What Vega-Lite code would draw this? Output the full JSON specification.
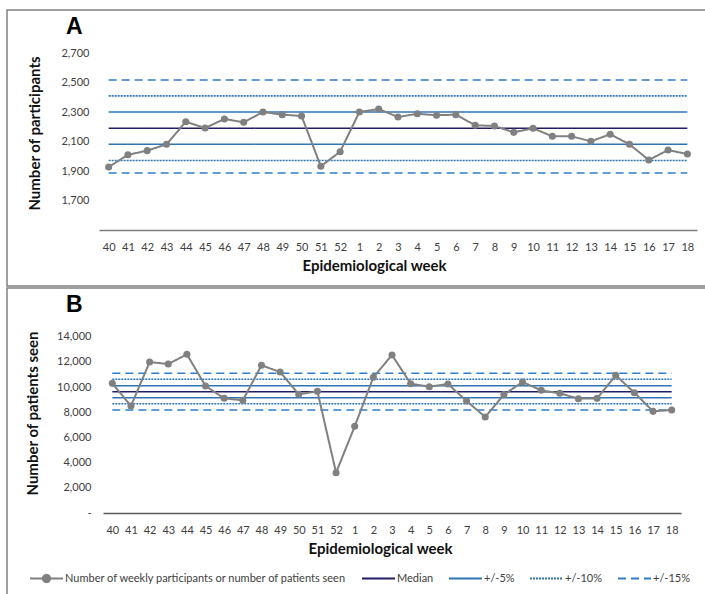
{
  "$schema": "https://vega.github.io/schema/vega-lite/v6.json",
  "padding": {"left": 6, "top": 9, "right": 0, "bottom": 0},
  "spacing": 0,
  "config": {
    "view": {"stroke": "#808080", "strokeWidth": 1.5},
    "font": "Lato",
    "axis": {"labelFont": "Lato", "labelFontSize": 11, "labelColor": "#404040", "titleFont": "Lato", "titleFontSize": 15, "titleFontWeight": "bold", "titleColor": "#111111", "ticks": false, "grid": false}
  },
  "resolve": {
    "scale": {"color": "independent", "strokeDash": "independent"},
    "legend": {"color": "independent", "strokeDash": "independent"}
  },
  "datasets": {
    "d": [
      {"panel": "A", "kind": "obs", "series": "Number of weekly participants or number of patients seen", "week": "40", "value": 1927},
      {"panel": "A", "kind": "obs", "series": "Number of weekly participants or number of patients seen", "week": "41", "value": 2010},
      {"panel": "A", "kind": "obs", "series": "Number of weekly participants or number of patients seen", "week": "42", "value": 2038},
      {"panel": "A", "kind": "obs", "series": "Number of weekly participants or number of patients seen", "week": "43", "value": 2081},
      {"panel": "A", "kind": "obs", "series": "Number of weekly participants or number of patients seen", "week": "44", "value": 2234},
      {"panel": "A", "kind": "obs", "series": "Number of weekly participants or number of patients seen", "week": "45", "value": 2191},
      {"panel": "A", "kind": "obs", "series": "Number of weekly participants or number of patients seen", "week": "46", "value": 2253},
      {"panel": "A", "kind": "obs", "series": "Number of weekly participants or number of patients seen", "week": "47", "value": 2230},
      {"panel": "A", "kind": "obs", "series": "Number of weekly participants or number of patients seen", "week": "48", "value": 2300},
      {"panel": "A", "kind": "obs", "series": "Number of weekly participants or number of patients seen", "week": "49", "value": 2282},
      {"panel": "A", "kind": "obs", "series": "Number of weekly participants or number of patients seen", "week": "50", "value": 2273},
      {"panel": "A", "kind": "obs", "series": "Number of weekly participants or number of patients seen", "week": "51", "value": 1932},
      {"panel": "A", "kind": "obs", "series": "Number of weekly participants or number of patients seen", "week": "52", "value": 2031},
      {"panel": "A", "kind": "obs", "series": "Number of weekly participants or number of patients seen", "week": "1", "value": 2300},
      {"panel": "A", "kind": "obs", "series": "Number of weekly participants or number of patients seen", "week": "2", "value": 2320},
      {"panel": "A", "kind": "obs", "series": "Number of weekly participants or number of patients seen", "week": "3", "value": 2266},
      {"panel": "A", "kind": "obs", "series": "Number of weekly participants or number of patients seen", "week": "4", "value": 2288},
      {"panel": "A", "kind": "obs", "series": "Number of weekly participants or number of patients seen", "week": "5", "value": 2278},
      {"panel": "A", "kind": "obs", "series": "Number of weekly participants or number of patients seen", "week": "6", "value": 2282},
      {"panel": "A", "kind": "obs", "series": "Number of weekly participants or number of patients seen", "week": "7", "value": 2210},
      {"panel": "A", "kind": "obs", "series": "Number of weekly participants or number of patients seen", "week": "8", "value": 2205},
      {"panel": "A", "kind": "obs", "series": "Number of weekly participants or number of patients seen", "week": "9", "value": 2162},
      {"panel": "A", "kind": "obs", "series": "Number of weekly participants or number of patients seen", "week": "10", "value": 2190},
      {"panel": "A", "kind": "obs", "series": "Number of weekly participants or number of patients seen", "week": "11", "value": 2135},
      {"panel": "A", "kind": "obs", "series": "Number of weekly participants or number of patients seen", "week": "12", "value": 2135},
      {"panel": "A", "kind": "obs", "series": "Number of weekly participants or number of patients seen", "week": "13", "value": 2101},
      {"panel": "A", "kind": "obs", "series": "Number of weekly participants or number of patients seen", "week": "14", "value": 2149},
      {"panel": "A", "kind": "obs", "series": "Number of weekly participants or number of patients seen", "week": "15", "value": 2081},
      {"panel": "A", "kind": "obs", "series": "Number of weekly participants or number of patients seen", "week": "16", "value": 1975},
      {"panel": "A", "kind": "obs", "series": "Number of weekly participants or number of patients seen", "week": "17", "value": 2042},
      {"panel": "A", "kind": "obs", "series": "Number of weekly participants or number of patients seen", "week": "18", "value": 2015},
      {"panel": "A", "kind": "ref", "series": "Median", "bound": "m", "week": "40", "value": 2190},
      {"panel": "A", "kind": "ref", "series": "Median", "bound": "m", "week": "18", "value": 2190},
      {"panel": "A", "kind": "ref", "series": "+/-5%", "bound": "u", "week": "40", "value": 2300},
      {"panel": "A", "kind": "ref", "series": "+/-5%", "bound": "u", "week": "18", "value": 2300},
      {"panel": "A", "kind": "ref", "series": "+/-5%", "bound": "l", "week": "40", "value": 2081},
      {"panel": "A", "kind": "ref", "series": "+/-5%", "bound": "l", "week": "18", "value": 2081},
      {"panel": "A", "kind": "ref", "series": "+/-10%", "bound": "u", "week": "40", "value": 2409},
      {"panel": "A", "kind": "ref", "series": "+/-10%", "bound": "u", "week": "18", "value": 2409},
      {"panel": "A", "kind": "ref", "series": "+/-10%", "bound": "l", "week": "40", "value": 1971},
      {"panel": "A", "kind": "ref", "series": "+/-10%", "bound": "l", "week": "18", "value": 1971},
      {"panel": "A", "kind": "ref", "series": "+/-15%", "bound": "u", "week": "40", "value": 2517},
      {"panel": "A", "kind": "ref", "series": "+/-15%", "bound": "u", "week": "18", "value": 2517},
      {"panel": "A", "kind": "ref", "series": "+/-15%", "bound": "l", "week": "40", "value": 1886},
      {"panel": "A", "kind": "ref", "series": "+/-15%", "bound": "l", "week": "18", "value": 1886},
      {"panel": "B", "kind": "obs", "series": "Number of weekly participants or number of patients seen", "week": "40", "value": 10290},
      {"panel": "B", "kind": "obs", "series": "Number of weekly participants or number of patients seen", "week": "41", "value": 8490},
      {"panel": "B", "kind": "obs", "series": "Number of weekly participants or number of patients seen", "week": "42", "value": 11980},
      {"panel": "B", "kind": "obs", "series": "Number of weekly participants or number of patients seen", "week": "43", "value": 11825},
      {"panel": "B", "kind": "obs", "series": "Number of weekly participants or number of patients seen", "week": "44", "value": 12593},
      {"panel": "B", "kind": "obs", "series": "Number of weekly participants or number of patients seen", "week": "45", "value": 10079},
      {"panel": "B", "kind": "obs", "series": "Number of weekly participants or number of patients seen", "week": "46", "value": 9101},
      {"panel": "B", "kind": "obs", "series": "Number of weekly participants or number of patients seen", "week": "47", "value": 8942},
      {"panel": "B", "kind": "obs", "series": "Number of weekly participants or number of patients seen", "week": "48", "value": 11720},
      {"panel": "B", "kind": "obs", "series": "Number of weekly participants or number of patients seen", "week": "49", "value": 11190},
      {"panel": "B", "kind": "obs", "series": "Number of weekly participants or number of patients seen", "week": "50", "value": 9418},
      {"panel": "B", "kind": "obs", "series": "Number of weekly participants or number of patients seen", "week": "51", "value": 9656},
      {"panel": "B", "kind": "obs", "series": "Number of weekly participants or number of patients seen", "week": "52", "value": 3200},
      {"panel": "B", "kind": "obs", "series": "Number of weekly participants or number of patients seen", "week": "1", "value": 6878},
      {"panel": "B", "kind": "obs", "series": "Number of weekly participants or number of patients seen", "week": "2", "value": 10767},
      {"panel": "B", "kind": "obs", "series": "Number of weekly participants or number of patients seen", "week": "3", "value": 12540},
      {"panel": "B", "kind": "obs", "series": "Number of weekly participants or number of patients seen", "week": "4", "value": 10265},
      {"panel": "B", "kind": "obs", "series": "Number of weekly participants or number of patients seen", "week": "5", "value": 10026},
      {"panel": "B", "kind": "obs", "series": "Number of weekly participants or number of patients seen", "week": "6", "value": 10238},
      {"panel": "B", "kind": "obs", "series": "Number of weekly participants or number of patients seen", "week": "7", "value": 8889},
      {"panel": "B", "kind": "obs", "series": "Number of weekly participants or number of patients seen", "week": "8", "value": 7619},
      {"panel": "B", "kind": "obs", "series": "Number of weekly participants or number of patients seen", "week": "9", "value": 9392},
      {"panel": "B", "kind": "obs", "series": "Number of weekly participants or number of patients seen", "week": "10", "value": 10397},
      {"panel": "B", "kind": "obs", "series": "Number of weekly participants or number of patients seen", "week": "11", "value": 9735},
      {"panel": "B", "kind": "obs", "series": "Number of weekly participants or number of patients seen", "week": "12", "value": 9497},
      {"panel": "B", "kind": "obs", "series": "Number of weekly participants or number of patients seen", "week": "13", "value": 9074},
      {"panel": "B", "kind": "obs", "series": "Number of weekly participants or number of patients seen", "week": "14", "value": 9100},
      {"panel": "B", "kind": "obs", "series": "Number of weekly participants or number of patients seen", "week": "15", "value": 10926},
      {"panel": "B", "kind": "obs", "series": "Number of weekly participants or number of patients seen", "week": "16", "value": 9550},
      {"panel": "B", "kind": "obs", "series": "Number of weekly participants or number of patients seen", "week": "17", "value": 8068},
      {"panel": "B", "kind": "obs", "series": "Number of weekly participants or number of patients seen", "week": "18", "value": 8175},
      {"panel": "B", "kind": "ref", "series": "Median", "bound": "m", "week": "40", "value": 9627},
      {"panel": "B", "kind": "ref", "series": "Median", "bound": "m", "week": "18", "value": 9627},
      {"panel": "B", "kind": "ref", "series": "+/-5%", "bound": "u", "week": "40", "value": 10103},
      {"panel": "B", "kind": "ref", "series": "+/-5%", "bound": "u", "week": "18", "value": 10103},
      {"panel": "B", "kind": "ref", "series": "+/-5%", "bound": "l", "week": "40", "value": 9151},
      {"panel": "B", "kind": "ref", "series": "+/-5%", "bound": "l", "week": "18", "value": 9151},
      {"panel": "B", "kind": "ref", "series": "+/-10%", "bound": "u", "week": "40", "value": 10611},
      {"panel": "B", "kind": "ref", "series": "+/-10%", "bound": "u", "week": "18", "value": 10611},
      {"panel": "B", "kind": "ref", "series": "+/-10%", "bound": "l", "week": "40", "value": 8675},
      {"panel": "B", "kind": "ref", "series": "+/-10%", "bound": "l", "week": "18", "value": 8675},
      {"panel": "B", "kind": "ref", "series": "+/-15%", "bound": "u", "week": "40", "value": 11087},
      {"panel": "B", "kind": "ref", "series": "+/-15%", "bound": "u", "week": "18", "value": 11087},
      {"panel": "B", "kind": "ref", "series": "+/-15%", "bound": "l", "week": "40", "value": 8175},
      {"panel": "B", "kind": "ref", "series": "+/-15%", "bound": "l", "week": "18", "value": 8175}
    ]
  },
  "vconcat": [
    {
      "width": 700,
      "height": 276,
      "title": {"text": "A", "anchor": "start", "frame": "group", "orient": "top", "offset": -29, "dx": 59, "font": "Liberation Sans", "fontSize": 23, "fontWeight": "bold", "color": "#000000"},
      "data": {"name": "d"},
      "transform": [{"filter": "datum.panel === 'A'"}],
      "encoding": {
        "x": {
          "field": "week", "type": "ordinal",
          "scale": {"type": "point", "domain": ["40","41","42","43","44","45","46","47","48","49","50","51","52","1","2","3","4","5","6","7","8","9","10","11","12","13","14","15","16","17","18"], "range": [92, 690], "padding": 0.5},
          "axis": {"orient": "bottom", "offset": -56, "labelAngle": 0, "labelPadding": 11, "domain": true, "domainColor": "#7f7f7f", "domainWidth": 1.5, "title": "Epidemiological week", "titlePadding": 6, "titleX": 367}
        },
        "y": {
          "field": "value", "type": "quantitative",
          "scale": {"domain": [1500, 2700], "range": [220, 43], "zero": false, "nice": false},
          "axis": {"orient": "left", "offset": -92, "values": [1700, 1900, 2100, 2300, 2500, 2700], "labelExpr": "format(datum.value, ',')", "domain": false, "labelPadding": 10, "title": "Number of participants", "titlePadding": 18, "titleY": 123}
        },
        "color": {
          "field": "series", "type": "nominal", "legend": null,
          "scale": {"domain": ["Number of weekly participants or number of patients seen", "Median", "+/-5%", "+/-10%", "+/-15%"], "range": ["#808080", "#221e63", "#2e75b6", "#2e75b6", "#2f7fc8"]}
        },
        "strokeDash": {
          "field": "series", "type": "nominal", "legend": null,
          "scale": {"domain": ["Number of weekly participants or number of patients seen", "Median", "+/-5%", "+/-10%", "+/-15%"], "range": [[1, 0], [1, 0], [1, 0], [2, 1], [8, 5]]}
        }
      },
      "layer": [
        {
          "transform": [{"filter": "datum.kind === 'ref'"}],
          "mark": {"type": "line", "strokeWidth": 1.6},
          "encoding": {"detail": {"field": "bound", "type": "nominal"}}
        },
        {
          "transform": [{"filter": "datum.kind === 'obs'"}],
          "mark": {"type": "line", "strokeWidth": 2, "point": {"filled": true, "size": 50}},
          "encoding": {}
        }
      ]
    },
    {
      "width": 700,
      "height": 312,
      "title": {"text": "B", "anchor": "start", "frame": "group", "orient": "top", "offset": -29, "dx": 59, "font": "Liberation Sans", "fontSize": 23, "fontWeight": "bold", "color": "#000000"},
      "data": {"name": "d"},
      "transform": [{"filter": "datum.panel === 'B'"}],
      "encoding": {
        "x": {
          "field": "week", "type": "ordinal",
          "scale": {"type": "point", "domain": ["40","41","42","43","44","45","46","47","48","49","50","51","52","1","2","3","4","5","6","7","8","9","10","11","12","13","14","15","16","17","18"], "range": [96, 674], "padding": 0.5},
          "axis": {"orient": "bottom", "offset": -87, "labelAngle": 0, "labelPadding": 11, "domain": true, "domainColor": "#595959", "domainWidth": 1.5, "title": "Epidemiological week", "titlePadding": 6, "titleX": 373}
        },
        "y": {
          "field": "value", "type": "quantitative",
          "scale": {"domain": [0, 14000], "range": [225, 48.6], "zero": false, "nice": false},
          "axis": {"orient": "left", "offset": -96, "values": [0, 2000, 4000, 6000, 8000, 10000, 12000, 14000], "labelExpr": "datum.value === 0 ? '-\u00a0\u00a0\u00a0' : format(datum.value, ',')", "domain": false, "labelPadding": 12, "title": "Number of patients seen", "titlePadding": 16, "titleY": 125}
        },
        "color": {
          "field": "series", "type": "nominal",
          "scale": {"domain": ["Number of weekly participants or number of patients seen", "Median", "+/-5%", "+/-10%", "+/-15%"], "range": ["#808080", "#221e63", "#2e75b6", "#2e75b6", "#2f7fc8"]},
          "legend": {
            "orient": "none", "legendX": 22, "legendY": 273, "direction": "horizontal", "title": null,
            "symbolType": "stroke", "symbolSize": 1089, "symbolStrokeWidth": 2,
            "labelFont": "Lato", "labelFontSize": 11, "labelColor": "#404040", "labelOffset": 1,
            "columnPadding": 11, "gridAlign": "none", "labelLimit": 400,
            "encode": {"symbols": {"update": {
              "shape": {"signal": "datum.value === 'Number of weekly participants or number of patients seen' ? 'M-1,0H1M0.22,0A0.22,0.22,0,1,1,-0.22,0A0.22,0.22,0,1,1,0.22,0Z' : 'stroke'"},
              "fill": {"signal": "datum.value === 'Number of weekly participants or number of patients seen' ? '#808080' : 'transparent'"}
            }}}
          }
        },
        "strokeDash": {
          "field": "series", "type": "nominal",
          "scale": {"domain": ["Number of weekly participants or number of patients seen", "Median", "+/-5%", "+/-10%", "+/-15%"], "range": [[1, 0], [1, 0], [1, 0], [2, 1], [8, 5]]}
        }
      },
      "layer": [
        {
          "transform": [{"filter": "datum.kind === 'ref'"}],
          "mark": {"type": "line", "strokeWidth": 1.6},
          "encoding": {"detail": {"field": "bound", "type": "nominal"}}
        },
        {
          "transform": [{"filter": "datum.kind === 'obs'"}],
          "mark": {"type": "line", "strokeWidth": 2, "point": {"filled": true, "size": 50}},
          "encoding": {}
        }
      ]
    }
  ]
}
